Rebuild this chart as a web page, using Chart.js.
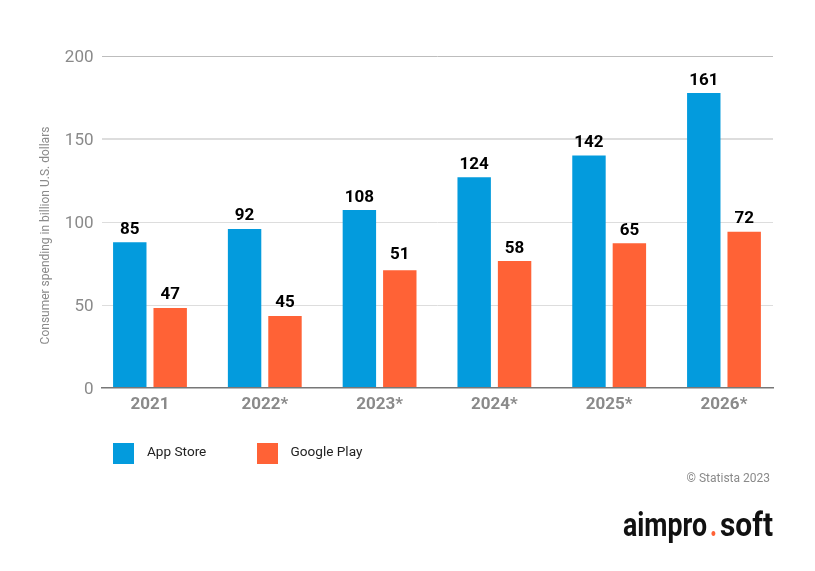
<!DOCTYPE html>
<html>
<head>
<meta charset="utf-8">
<style>html,body{margin:0;padding:0;background:#fff}canvas{display:block}</style>
<script src="https://cdn.jsdelivr.net/npm/chart.js@4"></script>
</head>
<body>
<canvas id="c" width="815" height="571"></canvas>
<script>
const categories = ['2021','2022*','2023*','2024*','2025*','2026*'];
const appStoreBars = [87.8,95.8,107.2,127,140,177.7];
const googlePlayBars = [48.2,43.4,71,76.5,87.2,94.2];
const appStoreLabels = ['85','92','108','124','142','161'];
const googlePlayLabels = ['47','45','51','58','65','72'];
const yTicks = [0,50,100,150,200];
const FONT = 'Roboto, sans-serif';

const annotate = {
  id:'annotate',
  afterDatasetsDraw(chart){
    const ctx = chart.ctx;
    ctx.save();
    // value labels
    ctx.font = 'bold 17px '+FONT; ctx.fillStyle='#000'; ctx.textAlign='center'; ctx.textBaseline='alphabetic';
    [appStoreLabels,googlePlayLabels].forEach((labels,d)=>{
      chart.getDatasetMeta(d).data.forEach((bar,i)=>{
        const gap = labels[i]==='51' ? 11 : 8.5;
        ctx.fillText(labels[i],bar.x,bar.y-gap);
      });
    });
    // axis title
    ctx.save();
    ctx.translate(49,235.5); ctx.rotate(-Math.PI/2);
    ctx.font='12px '+FONT; ctx.fillStyle='#8a8a8a'; ctx.textAlign='center';
    ctx.fillText('Consumer spending in billion U.S. dollars',0,0);
    ctx.restore();
    // legend
    ctx.textAlign='left';
    [[113,147],[257,290.5]].forEach((p,d)=>{
      const ds = chart.data.datasets[d];
      ctx.fillStyle=ds.backgroundColor; ctx.fillRect(p[0],443,21,21);
      ctx.fillStyle='#222'; ctx.font='13.6px '+FONT;
      ctx.fillText(ds.label,p[1],456);
    });
    // source
    ctx.fillStyle='#8a8a8a'; ctx.font='12px '+FONT; ctx.textAlign='right';
    ctx.fillText('© Statista 2023',770,482);
    // logo
    ctx.textAlign='left'; ctx.font='bold 34px '+FONT; ctx.fillStyle='#111';
    ctx.fillText('aimpro',623,536,84);
    ctx.fillText('soft',720,536,53);
    ctx.fillStyle='#FF6236';
    ctx.fillText('.',710,536,7);
    ctx.restore();
  }
};

new Chart(document.getElementById('c'),{
  type:'bar',
  data:{
    datasets:[
      {label:'App Store',backgroundColor:'#039BDD',data:appStoreBars.map((y,x)=>({x,y}))},
      {label:'Google Play',backgroundColor:'#FF6236',data:googlePlayBars.map((y,x)=>({x,y}))}
    ]
  },
  options:{
    responsive:false,animation:false,
    devicePixelRatio:1,
    layout:{padding:{left:0,right:42,top:56,bottom:0}},
    datasets:{bar:{categoryPercentage:0.704,barPercentage:0.827}},
    plugins:{legend:{display:false},tooltip:{enabled:false},title:{display:false}},
    scales:{
      x:{
        type:'linear',bounds:'data',offset:false,min:-0.418,max:5.427,
        afterFit(s){s.height=183;},
        afterBuildTicks(s){s.ticks=categories.map((_,value)=>({value}));},
        grid:{display:false,drawTicks:false},
        border:{display:true,color:'#777',width:1.5,z:1},
        ticks:{
          autoSkip:false,maxRotation:0,padding:7,color:'#8a8a8a',
          font:{family:FONT,size:17,weight:'bold'},
          callback:v=>categories[v]
        }
      },
      y:{
        min:0,max:200,
        afterFit(s){s.width=102;},
        afterBuildTicks(s){s.ticks=yTicks.map(value=>({value}));},
        grid:{
          drawTicks:false,
          color:c=>c.tick.value===200?'#bdbdbd':c.tick.value===0?'rgba(0,0,0,0)':'#dddddd',
          lineWidth:c=>c.tick.value===150?2:1
        },
        border:{display:false},
        ticks:{padding:8.5,labelOffset:1.5,color:'#8a8a8a',font:{family:FONT,size:17}}
      }
    }
  },
  plugins:[annotate]
});
</script>
</body>
</html>
